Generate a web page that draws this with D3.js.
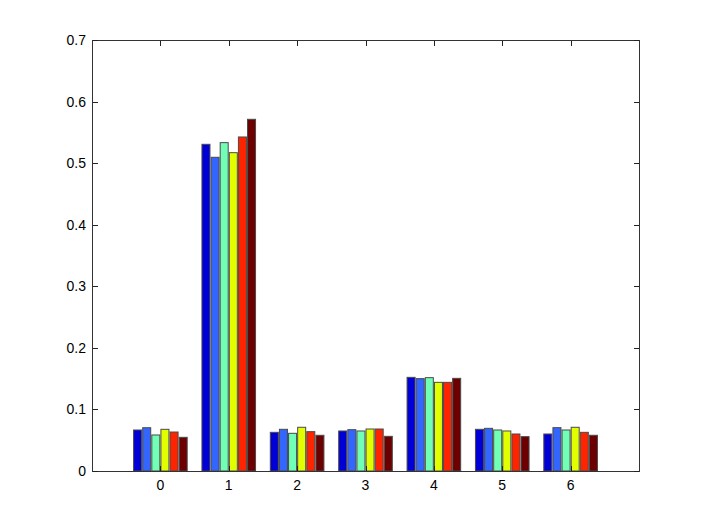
<!DOCTYPE html>
<html>
<head>
<meta charset="utf-8">
<script src="https://cdn.jsdelivr.net/npm/d3@7"></script>
<style>
  html, body { margin: 0; padding: 0; background: #fff; }
  svg { display: block; }
  text { font-family: "Liberation Sans", Arial, Helvetica, sans-serif; font-size: 14px; fill: #000; }
</style>
</head>
<body>
<script>
// Categories (x tick labels)
const categories = [0, 1, 2, 3, 4, 5, 6];
// Six series, one value per category
const series1 = [0.0666, 0.5306, 0.0628, 0.0650, 0.1521, 0.0677, 0.0601];
const series2 = [0.0703, 0.5095, 0.0677, 0.0671, 0.1500, 0.0693, 0.0704];
const series3 = [0.0585, 0.5333, 0.0612, 0.0650, 0.1516, 0.0666, 0.0666];
const series4 = [0.0677, 0.5170, 0.0710, 0.0682, 0.1440, 0.0650, 0.0710];
const series5 = [0.0633, 0.5425, 0.0639, 0.0682, 0.1440, 0.0601, 0.0628];
const series6 = [0.0547, 0.5712, 0.0580, 0.0563, 0.1505, 0.0558, 0.0580];
const seriesColors = ["#0000d6", "#3366ff", "#70ffb4", "#e2ff00", "#ff2400", "#6c0000"];
const yTicks = [0, 0.1, 0.2, 0.3, 0.4, 0.5, 0.6, 0.7];

const allSeries = [series1, series2, series3, series4, series5, series6];

const W = 706, H = 531;
const mLeft = 92, mRight = 639, mTop = 40, mBottom = 471;

const svg = d3.select("body").append("svg").attr("width", W).attr("height", H);

const x = d3.scaleLinear().domain([-1, 7]).range([mLeft, mRight]);
const y = d3.scaleLinear().domain([0, 0.7]).range([mBottom, mTop]);

const nb = allSeries.length;
const groupWidth = 0.8;
const step = groupWidth / nb;
const barW = step * 0.88;

const g = svg.append("g");
allSeries.forEach((s, i) => {
  g.selectAll(null)
    .data(categories.map((c, j) => ({ c, v: s[j] })))
    .enter()
    .append("rect")
    .attr("x", d => x(d.c - groupWidth / 2 + step * i + (step - barW) / 2))
    .attr("width", d => x(barW) - x(0))
    .attr("y", d => y(d.v))
    .attr("height", d => y(0) - y(d.v))
    .attr("fill", seriesColors[i])
    .attr("stroke", "#4a4a4a")
    .attr("stroke-width", 1);
});

// Box
svg.append("rect")
  .attr("x", mLeft + 0.5).attr("y", mTop + 0.5)
  .attr("width", mRight - mLeft).attr("height", mBottom - mTop)
  .attr("fill", "none").attr("stroke", "#333").attr("stroke-width", 1);

const tl = 5;
const axisG = svg.append("g").attr("stroke", "#222").attr("stroke-width", 1);
categories.forEach(c => {
  const px = Math.round(x(c)) + 0.5;
  axisG.append("line").attr("x1", px).attr("x2", px).attr("y1", mBottom).attr("y2", mBottom - tl);
  axisG.append("line").attr("x1", px).attr("x2", px).attr("y1", mTop + 1).attr("y2", mTop + 1 + tl);
});
yTicks.forEach(t => {
  const py = Math.round(y(t)) + 0.5;
  axisG.append("line").attr("x1", mLeft + 1).attr("x2", mLeft + 1 + tl).attr("y1", py).attr("y2", py);
  axisG.append("line").attr("x1", mRight).attr("x2", mRight - tl).attr("y1", py).attr("y2", py);
});

// Labels
svg.append("g").selectAll("text").data(categories).enter().append("text")
  .attr("x", d => x(d)).attr("y", 490)
  .attr("text-anchor", "middle")
  .text(d => d);

svg.append("g").selectAll("text").data(yTicks).enter().append("text")
  .attr("x", 86).attr("y", d => y(d) + 5)
  .attr("text-anchor", "end")
  .text(d => d === 0 ? "0" : d3.format(".1f")(d));
</script>
</body>
</html>
